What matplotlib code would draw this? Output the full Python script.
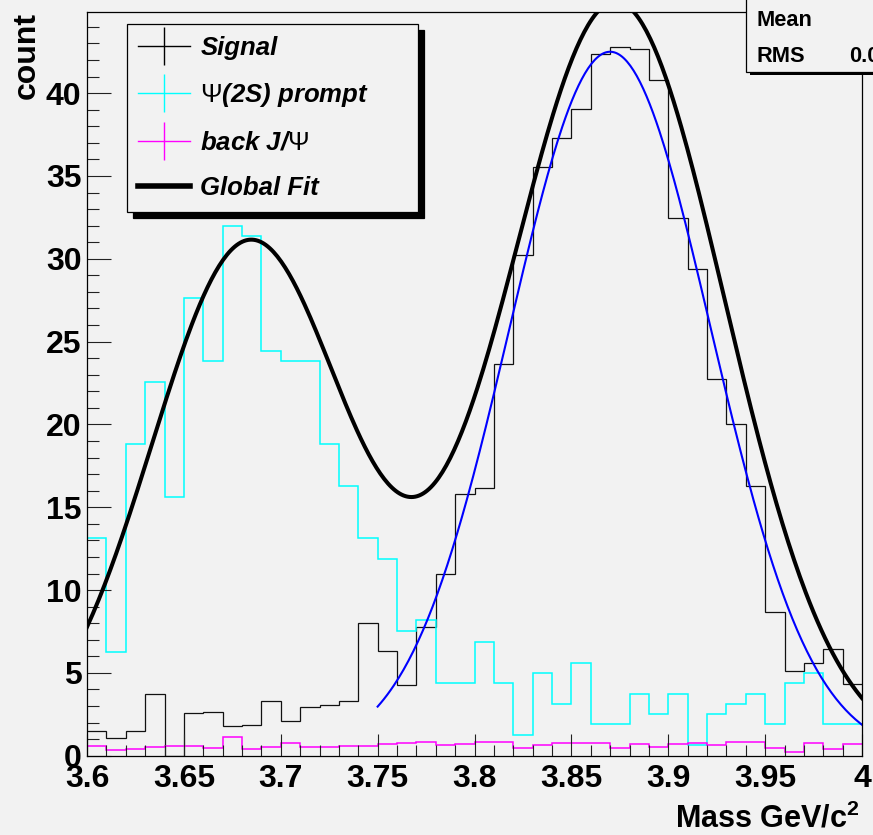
import numpy as np
import matplotlib
matplotlib.use("Agg")
import matplotlib.pyplot as plt
from matplotlib.lines import Line2D
from matplotlib.patches import Rectangle
from matplotlib.ticker import MultipleLocator, FormatStrFormatter

plt.rcParams['font.family'] = ['Liberation Sans', 'DejaVu Sans']
plt.rcParams['mathtext.fontset'] = 'custom'
plt.rcParams['mathtext.rm'] = 'Liberation Sans'
plt.rcParams['mathtext.it'] = 'Liberation Sans:italic'
plt.rcParams['mathtext.bf'] = 'Liberation Sans:bold'
plt.rcParams['mathtext.default'] = 'regular'

# histogram binning: 40 bins from 3.6 to 4.0 GeV/c^2
x_min, x_max, n_bins = 3.6, 4.0, 40

signal = [1.49, 1.09, 1.49, 3.74, 0.0, 2.58, 2.66, 1.79, 1.87, 3.28,
          2.10, 2.96, 3.04, 3.28, 8.01, 6.32, 4.27, 7.79, 11.0, 15.78,
          16.18, 23.65, 30.2, 35.57, 37.28, 39.05, 42.35, 42.8, 42.66, 40.78,
          32.45, 29.37, 22.73, 20.01, 16.27, 8.66, 5.13, 5.6, 6.46, 4.35]

psi2s_prompt = [13.17, 6.24, 18.84, 22.58, 15.64, 27.62, 23.83, 31.99, 31.36, 24.44,
                23.83, 23.83, 18.84, 16.27, 13.17, 11.9, 7.55, 8.17, 4.37, 4.37,
                6.85, 4.37, 1.27, 4.97, 3.12, 5.6, 1.89, 1.89, 3.75, 2.52,
                3.75, 0.65, 2.52, 3.12, 3.75, 1.89, 4.37, 4.97, 1.89, 1.89]

back_jpsi = [0.6, 0.32, 0.4, 0.54, 0.6, 0.6, 0.48, 1.15, 0.4, 0.54,
             0.79, 0.54, 0.54, 0.6, 0.6, 0.68, 0.79, 0.85, 0.62, 0.72,
             0.85, 0.85, 0.48, 0.62, 0.79, 0.79, 0.79, 0.48, 0.72, 0.54,
             0.68, 0.79, 0.62, 0.85, 0.85, 0.48, 0.24, 0.79, 0.4, 0.68]

# gaussian fit parameters (amplitude, mean, sigma)
global_amp = [31.0, 45.5]
global_mean = [3.684, 3.873]
global_sigma = [0.0505, 0.0560]
global_range = [3.6, 4.0]

signal_amp = 42.5
signal_mean = 3.870
signal_sigma = 0.052
signal_range = [3.75, 4.0]

bg = '#f2f2f2'
edges = np.linspace(x_min, x_max, n_bins + 1)


def gaus(x, a, m, s):
    return a * np.exp(-0.5 * ((x - m) / s) ** 2)


fig = plt.figure(figsize=(8.73, 8.35), dpi=100, facecolor=bg)
ax = fig.add_axes([0.09966, 0.09497, 0.88774, 0.89066])
ax.set_facecolor(bg)

ax.stairs(signal, edges, baseline=None, color='#111111', lw=0.9)
ax.stairs(psi2s_prompt, edges, baseline=None, color='#00ffff', lw=1.1)
ax.stairs(back_jpsi, edges, baseline=None, color='#ff00ff', lw=1.1)

xs = np.linspace(signal_range[0], signal_range[1], 300)
ax.plot(xs, gaus(xs, signal_amp, signal_mean, signal_sigma), color='#0000ff', lw=1.5)

xg = np.linspace(global_range[0], global_range[1], 400)
yg = sum(gaus(xg, a, m, s) for a, m, s in zip(global_amp, global_mean, global_sigma))
ax.plot(xg, yg, color='black', lw=2.9)

ax.set_xlim(x_min, x_max)
ax.set_ylim(0, 44.9)

ax.xaxis.set_major_locator(MultipleLocator(0.05))
ax.xaxis.set_minor_locator(MultipleLocator(0.01))
ax.xaxis.set_major_formatter(FormatStrFormatter('%g'))
ax.yaxis.set_major_locator(MultipleLocator(5))
ax.yaxis.set_minor_locator(MultipleLocator(1))

ax.tick_params(which='both', direction='in', top=False, right=False, width=0.8, color='#222222')
ax.tick_params(axis='x', which='major', length=15.8, pad=6, labelsize=23)
ax.tick_params(axis='x', which='minor', length=7.9)
ax.tick_params(axis='y', which='major', length=17.3, pad=4, labelsize=23)
ax.tick_params(axis='y', which='minor', length=8.6)
for lab in ax.get_xticklabels() + ax.get_yticklabels():
    lab.set_fontweight('bold')
for sp in ax.spines.values():
    sp.set_linewidth(0.9)

ax.set_xlabel('Mass GeV/c$^{2}$', fontsize=22, fontweight='bold', ha='right', va='baseline')
ax.xaxis.set_label_coords(0.9974, -0.0959)
ax.set_ylabel('count', fontsize=23, fontweight='bold', ha='right', va='baseline')
ax.yaxis.set_label_coords(-0.0671, 1.0)

handles = [
    Line2D([], [], color='black', lw=1, marker='|', ms=28, mew=1),
    Line2D([], [], color='#00ffff', lw=1, marker='|', ms=28, mew=1),
    Line2D([], [], color='#ff00ff', lw=1, marker='|', ms=28, mew=1),
    Line2D([], [], color='black', lw=4),
]
labels = ['Signal', r'$\mathrm{\Psi}$(2S) prompt', r'back J/$\mathrm{\Psi}$', 'Global Fit']
leg = ax.legend(handles, labels, loc='upper left', mode='expand',
                bbox_to_anchor=(0.1451, 0.5, 0.3341, 0.47126),
                bbox_transform=fig.transFigure, borderaxespad=0,
                prop={'size': 18.5, 'weight': 'bold', 'style': 'italic'},
                numpoints=1, handlelength=2.03, handletextpad=0.39,
                labelspacing=0.84, borderpad=0.45, fancybox=False,
                framealpha=1, facecolor=bg, edgecolor='black',
                shadow={'ox': 4.3, 'oy': -4.3, 'facecolor': 'black',
                        'edgecolor': 'black', 'alpha': 1})
leg.get_frame().set_linewidth(0.9)

# statistics box, cut by the canvas edge as in the original
fig.add_artist(Rectangle((0.8588, 0.9105), 0.3, 0.2, transform=fig.transFigure,
                         facecolor='black', edgecolor='none', zorder=5))
fig.add_artist(Rectangle((0.8542, 0.91413), 0.3, 0.2, transform=fig.transFigure,
                         facecolor=bg, edgecolor='black', lw=0.9, zorder=6))
fig.text(756 / 873, 1 - 26 / 835, 'Mean', fontsize=15.7, fontweight='bold',
         va='baseline', zorder=7)
fig.text(756 / 873, 1 - 62.3 / 835, 'RMS', fontsize=15.7, fontweight='bold',
         va='baseline', zorder=7)
fig.text(849.3 / 873, 1 - 62.3 / 835, '0.0', fontsize=15.7, fontweight='bold',
         va='baseline', zorder=7)

fig.savefig('out.png', dpi=100, facecolor=bg)
